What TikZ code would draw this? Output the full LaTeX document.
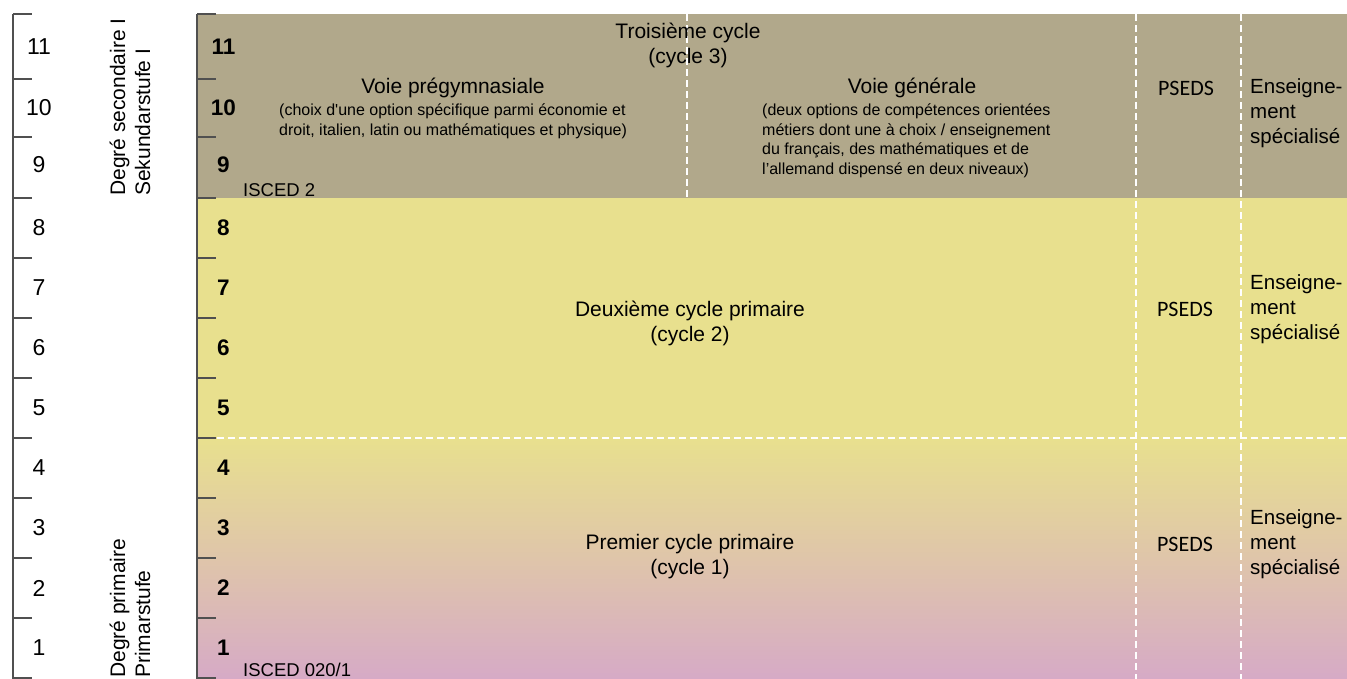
\documentclass[tikz,border=0pt]{standalone}
\usepackage{fontspec}
\setmainfont{Liberation Sans}
\newfontfamily\rawfont{Liberation Sans}
\newfontfamily\psedsfont{Carlito}
\definecolor{brownc}{HTML}{B1A88B}
\definecolor{yellowc}{HTML}{E8E08E}
\definecolor{mauvec}{HTML}{D6AAC6}
\definecolor{tickc}{HTML}{505050}
\begin{document}
\begin{tikzpicture}[x=1pt,y=-1pt,
  tickline/.style={draw=tickc, line width=1.5pt},
  sepline/.style={draw=white, line width=1.6pt, dash pattern=on 7pt off 4pt},
  scalenum/.style={inner sep=0pt, font=\fontsize{23}{25}\selectfont},
  boldnum/.style={inner sep=0pt, font=\fontsize{22.5}{25}\selectfont\bfseries},
  title/.style={inner sep=0pt, align=center, font=\fontsize{21}{25}\selectfont},
  detail/.style={inner sep=0pt, align=left, anchor=north west, font=\fontsize{16}{19.4}\selectfont},
  isced/.style={inner sep=0pt, anchor=west, font=\fontsize{18.5}{22}\selectfont},
  psedsbox/.style={inner sep=0pt, font=\psedsfont\fontsize{22}{25}\selectfont},
  ensbox/.style={inner sep=0pt, anchor=west, align=left, font=\fontsize{20.5}{25}\selectfont},
  degree/.style={inner sep=0pt, rotate=90, anchor=west, align=left, font=\fontsize{21}{25}\selectfont}]
\useasboundingbox (0,0) rectangle (1347,679);
% backgrounds
\fill[brownc] (197,14) rectangle (1347,198);
\fill[yellowc] (197,198) rectangle (1347,438.5);
\shade[top color=yellowc, bottom color=mauvec] (197,438) rectangle (1347,679);
% scale lines
\draw[tickline] (13,14) -- (13,679);
\draw[tickline] (197,14) -- (197,679);
\foreach \yy in {14,79,137,198,258,318,378,438,498,558,618,678}{
  \draw[tickline] (13,\yy) -- (32,\yy);
  \draw[tickline] (197,\yy) -- (216,\yy);
}
% dashed separators
\draw[sepline] (217,438) -- (1347,438);
\draw[sepline] (687,14) -- (687,198);
\draw[sepline] (1136,14) -- (1136,679);
\draw[sepline] (1241,14) -- (1241,679);
% numbers
\foreach \n/\yy in {11/46.5,10/107.5,9/165,8/228,7/288,6/348,5/408,4/468,3/528,2/588,1/648}{
  \node[scalenum] (s\n) at (39,\yy) {\n};
  \node[boldnum] (b\n) at (223.5,\yy) {\n};
}
% degree labels
\node[degree] (sec) at (130,196) {Degré secondaire I\\Sekundarstufe I};
\node[degree] (prim) at (130,678) {Degré primaire\\Primarstufe};
% cycle 3
\node[title] (c3) at (688,45) {Troisième cycle\\(cycle 3)};
\node[title] (pregym) at (453,88) {Voie prégymnasiale};
\node[detail] (pregymd) at (279,104) {(choix d{\rawfont\symbol{39}}une option spécifique parmi économie et\\droit, italien, latin ou mathématiques et physique)};
\node[title] (gen) at (912,88) {Voie générale};
\node[detail] (gend) at (762,104) {(deux options de compétences orientées\\métiers dont une à choix / enseignement\\du français, des mathématiques et de\\l’allemand dispensé en deux niveaux)};
\node[isced] (isc2) at (243,190) {ISCED 2};
% cycle 2
\node[title] (c2) at (690,323) {Deuxième cycle primaire\\(cycle 2)};
% cycle 1
\node[title] (c1) at (690,557) {Premier cycle primaire\\(cycle 1)};
\node[isced] (isc1) at (243,670) {ISCED 020/1};
% PSEDS column
\node[psedsbox] (p3) at (1186,88) {PSEDS};
\node[psedsbox] (p2) at (1185,309) {PSEDS};
\node[psedsbox] (p1) at (1185,544) {PSEDS};
% special education column
\node[ensbox] (e3) at (1250,113) {Enseigne-\\ment\\spécialisé};
\node[ensbox] (e2) at (1250,309) {Enseigne-\\ment\\spécialisé};
\node[ensbox] (e1) at (1250,544) {Enseigne-\\ment\\spécialisé};
\end{tikzpicture}
\end{document}
